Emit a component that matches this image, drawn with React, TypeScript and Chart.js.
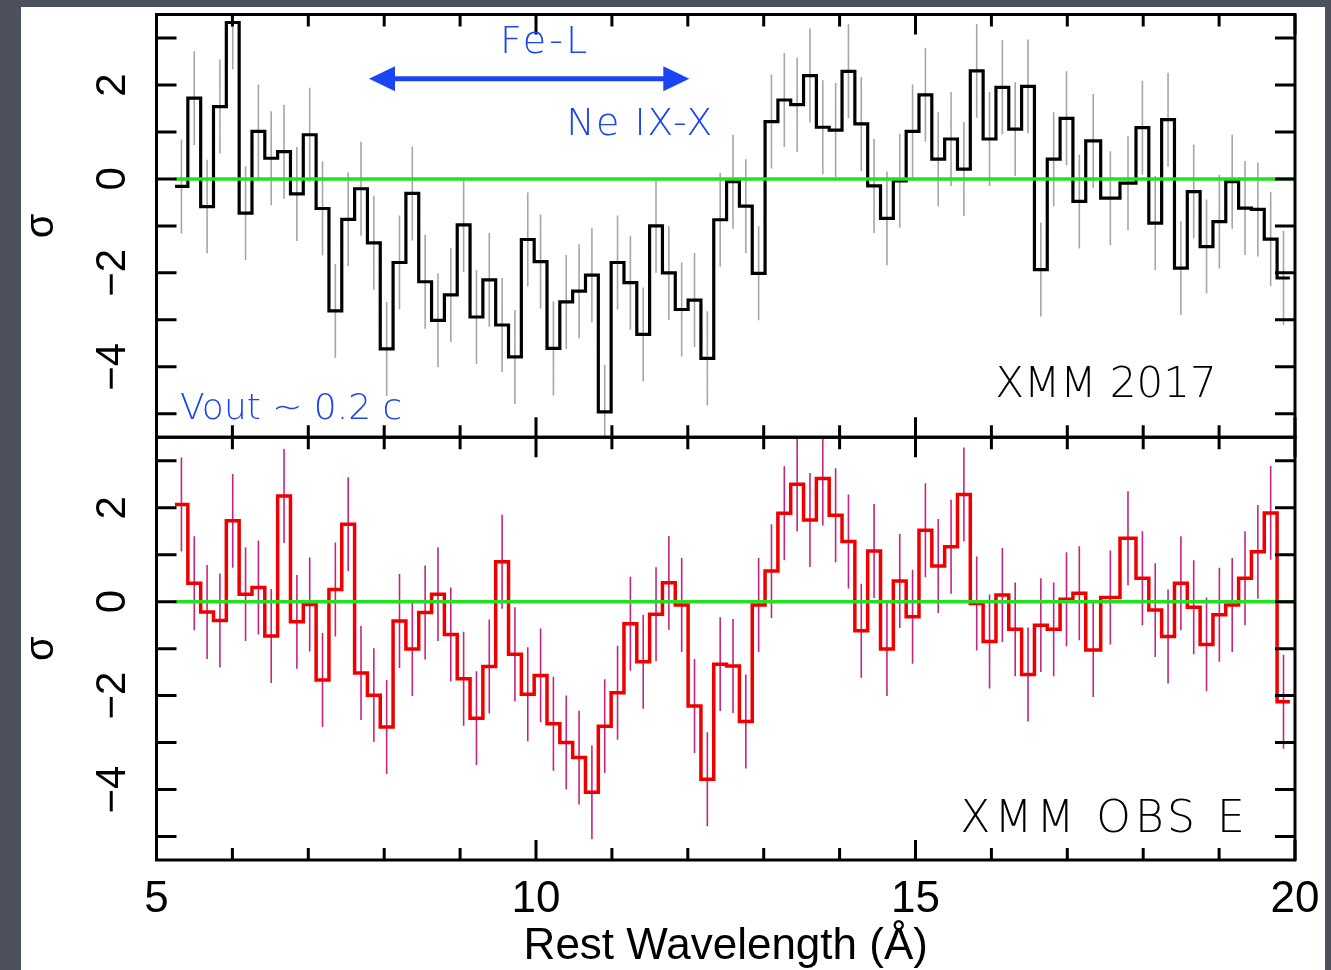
import React, { useEffect, useRef } from 'react';
import { Chart, registerables } from 'chart.js';

Chart.register(...registerables);

// Bin edges of the residual spectra (rest wavelength, Å)
const BIN_EDGES = [
  5.244, 5.413, 5.582, 5.751, 5.920, 6.089, 6.258, 6.427, 6.596, 6.765,
  6.934, 7.103, 7.272, 7.441, 7.610, 7.779, 7.948, 8.117, 8.286, 8.455,
  8.624, 8.793, 8.962, 9.131, 9.300, 9.469, 9.638, 9.807, 9.976, 10.145,
  10.314, 10.483, 10.652, 10.821, 10.990, 11.159, 11.328, 11.497, 11.666, 11.835,
  12.004, 12.173, 12.342, 12.511, 12.680, 12.849, 13.018, 13.187, 13.356, 13.525,
  13.694, 13.863, 14.032, 14.201, 14.370, 14.539, 14.708, 14.877, 15.046, 15.215,
  15.384, 15.553, 15.722, 15.891, 16.060, 16.229, 16.398, 16.567, 16.736, 16.905,
  17.074, 17.243, 17.440, 17.694, 17.905, 18.074, 18.243, 18.412, 18.581, 18.750,
  18.919, 19.088, 19.257, 19.426, 19.595, 19.764, 19.933,
];

// Residuals (σ) — XMM 2017
const XMM2017_SIGMA = [
  -0.16, 1.72, -0.59, 1.54, 3.33, -0.73, 1.01, 0.44, 0.58, -0.32,
  0.94, -0.63, -2.81, -0.86, -0.21, -1.36, -3.62, -1.78, -0.31, -2.19,
  -3.01, -2.47, -0.98, -2.94, -2.15, -3.11, -3.79, -1.29, -1.76, -3.61,
  -2.62, -2.39, -2.05, -4.96, -1.78, -2.21, -3.31, -1.00, -2.00, -2.78,
  -2.58, -3.82, -0.87, -0.06, -0.58, -2.01, 1.22, 1.68, 1.58, 2.20,
  1.10, 1.04, 2.29, 1.17, -0.15, -0.84, -0.04, 1.01, 1.79, 0.42,
  0.85, 0.21, 2.30, 0.85, 1.95, 1.06, 1.97, -1.93, 0.42, 1.29,
  -0.48, 0.81, -0.41, -0.09, 1.09, -0.94, 1.26, -1.90, -0.27, -1.44,
  -0.91, -0.06, -0.62, -0.65, -1.28, -2.11,
];

// Residuals (σ) — XMM OBS E
const OBSE_SIGMA = [
  2.07, 0.39, -0.22, -0.40, 1.72, 0.16, 0.30, -0.73, 2.25, -0.43,
  -0.06, -1.67, 0.26, 1.65, -1.52, -1.99, -2.67, -0.41, -1.01, -0.23,
  0.16, -0.70, -1.64, -2.48, -1.38, 0.85, -1.12, -1.97, -1.57, -2.60,
  -3.00, -3.32, -4.06, -2.65, -1.94, -0.47, -1.28, -0.27, 0.40, -0.07,
  -2.22, -3.78, -1.33, -1.37, -2.55, -0.07, 0.65, 1.88, 2.50, 1.74,
  2.62, 1.84, 1.28, -0.62, 1.08, -1.01, 0.44, -0.32, 1.52, 0.76,
  1.17, 2.28, -0.04, -0.85, 0.14, -0.59, -1.55, -0.50, -0.59, 0.05,
  0.18, -1.03, 0.09, 1.35, 0.50, -0.18, -0.74, 0.39, -0.12, -0.91,
  -0.28, -0.07, 0.50, 1.06, 1.89, -2.13,
];

const SIGMA_ERR = 1; // residuals in units of σ: ±1 error bars
const ZERO_LINE = [5.244, 20];
const X_RANGE = [5, 20];
const Y_RANGE = [-5.5, 3.5];
const X_TICK_STEP = 5;
const Y_TICK_LABELS = [-4, -2, 0, 2];
const X_TITLE = 'Rest Wavelength (Å)';
const Y_TITLE = 'σ';

// Annotations (data coordinates)
const ARROW_SPAN = [7.8, 12.02];
const ARROW_Y = 2.13;
const LABEL_FEL = { text: 'Fe-L', x: 10.12, y: 2.9 };
const LABEL_NE = { text: 'Ne IX-X', x: 11.37, y: 1.15 };
const LABEL_VOUT = { text: 'Vout ~ 0.2 c', x: 5.31, y: -4.92 };
const LABEL_TOP = { text: 'XMM 2017', x: 16.05, y: -4.41 };
const LABEL_BOT = { text: 'XMM OBS E', x: 15.59, y: -4.65 };

const SANS = '"Liberation Sans", Arial, Helvetica, sans-serif';
const HAND = '"DejaVu Sans", "Lato", sans-serif';
const BLUE = '#1b44f4';

function stepPoints(vals: number[]) {
  const pts = vals.map((v, i) => ({ x: BIN_EDGES[i], y: v }));
  pts.push({ x: BIN_EDGES[vals.length], y: vals[vals.length - 1] });
  return pts;
}

function errPoints(vals: number[]) {
  const pts: { x: number; y: number | null }[] = [];
  vals.forEach((v, i) => {
    const xc = (BIN_EDGES[i] + BIN_EDGES[i + 1]) / 2;
    pts.push({ x: xc, y: v - SIGMA_ERR });
    pts.push({ x: xc, y: v + SIGMA_ERR });
    pts.push({ x: xc, y: null });
  });
  return pts;
}

const framePlugin = {
  id: 'frameAndNotes',
  afterDatasetsDraw(chart: any) {
    const ctx = chart.ctx as CanvasRenderingContext2D;
    const xs = chart.scales.x;
    ctx.save();
    ctx.strokeStyle = '#000';
    ctx.lineWidth = 3;
    ctx.lineCap = 'butt';
    for (const id of ['yTop', 'yBot']) {
      const ys = chart.scales[id];
      const L = xs.left, R = xs.right, T = ys.top, B = ys.bottom;
      ctx.strokeRect(L, T, R - L, B - T);
      ctx.beginPath();
      for (let v = X_RANGE[0]; v <= X_RANGE[1]; v++) {
        const px = xs.getPixelForValue(v);
        const len = v % X_TICK_STEP === 0 ? 20 : 12;
        ctx.moveTo(px, T); ctx.lineTo(px, T + len);
        ctx.moveTo(px, B); ctx.lineTo(px, B - len);
      }
      for (let v = Math.ceil(Y_RANGE[0]); v <= Math.floor(Y_RANGE[1]); v++) {
        const py = ys.getPixelForValue(v);
        ctx.moveTo(L, py); ctx.lineTo(L + 20, py);
        ctx.moveTo(R, py); ctx.lineTo(R - 20, py);
      }
      ctx.stroke();

      // rotated y tick labels
      ctx.fillStyle = '#000';
      ctx.font = `42px ${SANS}`;
      ctx.textAlign = 'center';
      ctx.textBaseline = 'middle';
      for (const v of Y_TICK_LABELS) {
        const py = ys.getPixelForValue(v);
        ctx.save();
        ctx.translate(L - 43, py);
        ctx.rotate(-Math.PI / 2);
        ctx.fillText(v < 0 ? `\u2212${Math.abs(v)}` : `${v}`, 0, 0);
        ctx.restore();
      }
    }

    // annotations
    const yT = chart.scales.yTop;
    const yB = chart.scales.yBot;
    const ax1 = xs.getPixelForValue(ARROW_SPAN[0]);
    const ax2 = xs.getPixelForValue(ARROW_SPAN[1]);
    const ay = yT.getPixelForValue(ARROW_Y);
    const head = 26, half = 12.5;
    ctx.strokeStyle = BLUE;
    ctx.fillStyle = BLUE;
    ctx.lineWidth = 5;
    ctx.beginPath();
    ctx.moveTo(ax1 + head - 2, ay);
    ctx.lineTo(ax2 - head + 2, ay);
    ctx.stroke();
    ctx.beginPath();
    ctx.moveTo(ax1, ay); ctx.lineTo(ax1 + head, ay - half); ctx.lineTo(ax1 + head, ay + half); ctx.closePath();
    ctx.fill();
    ctx.beginPath();
    ctx.moveTo(ax2, ay); ctx.lineTo(ax2 - head, ay - half); ctx.lineTo(ax2 - head, ay + half); ctx.closePath();
    ctx.fill();

    const drawText = (lab: any, ys: any, size: number, color: string, align: CanvasTextAlign, spacing: string) => {
      ctx.font = `200 ${size}px ${HAND}`;
      (ctx as any).letterSpacing = spacing;
      ctx.fillStyle = color;
      ctx.textAlign = align;
      ctx.textBaseline = 'middle';
      ctx.fillText(lab.text, xs.getPixelForValue(lab.x), ys.getPixelForValue(lab.y));
    };
    drawText(LABEL_FEL, yT, 38, BLUE, 'center', '3px');
    drawText(LABEL_NE, yT, 38, BLUE, 'center', '1.5px');
    drawText(LABEL_VOUT, yT, 36, BLUE, 'left', '0px');
    drawText(LABEL_TOP, yT, 42, '#000', 'left', '0px');
    drawText(LABEL_BOT, yB, 44, '#000', 'left', '4px');
    (ctx as any).letterSpacing = '0px';
    ctx.restore();
  },
};

export default function App() {
  const ref = useRef<HTMLCanvasElement | null>(null);

  useEffect(() => {
    if (!ref.current) return;
    const yScale = (weight: number) => ({
      type: 'linear' as const,
      position: 'left' as const,
      stack: 'panels',
      stackWeight: 1,
      weight,
      min: Y_RANGE[0],
      max: Y_RANGE[1],
      afterFit: (s: any) => { s.width = 135.5; s.paddingTop = 0; s.paddingBottom = 0; },
      grid: { display: false, drawTicks: false },
      border: { display: false },
      ticks: { display: false, stepSize: 1 },
      title: {
        display: true,
        text: Y_TITLE,
        color: '#000',
        font: { family: SANS, size: 40, lineHeight: 1 },
        padding: { top: 1, bottom: 0 },
      },
    });

    const chart = new Chart(ref.current, {
      type: 'line',
      data: {
        datasets: [
          { data: ZERO_LINE.map((x) => ({ x, y: 0 })), yAxisID: 'yTop', xAxisID: 'x', borderColor: '#22e022', borderWidth: 3.5, pointRadius: 0, order: 0 },
          { data: ZERO_LINE.map((x) => ({ x, y: 0 })), yAxisID: 'yBot', xAxisID: 'x', borderColor: '#22e022', borderWidth: 3.5, pointRadius: 0, order: 0 },
          { data: stepPoints(XMM2017_SIGMA), yAxisID: 'yTop', xAxisID: 'x', stepped: 'before', borderColor: '#000', borderWidth: 3.2, pointRadius: 0, order: 1 },
          { data: stepPoints(OBSE_SIGMA), yAxisID: 'yBot', xAxisID: 'x', stepped: 'before', borderColor: '#ee0000', borderWidth: 3.5, pointRadius: 0, order: 1 },
          { data: errPoints(XMM2017_SIGMA), yAxisID: 'yTop', xAxisID: 'x', borderColor: '#a6a6a6', borderWidth: 1.6, pointRadius: 0, spanGaps: false, order: 2 },
          { data: errPoints(OBSE_SIGMA), yAxisID: 'yBot', xAxisID: 'x', borderColor: '#c4267f', borderWidth: 1.6, pointRadius: 0, spanGaps: false, order: 2 },
        ] as any,
      },
      options: {
        responsive: false,
        animation: false,
        events: [],
        layout: { padding: { top: 7.5, right: 30, bottom: 0, left: 0 } },
        plugins: { legend: { display: false }, tooltip: { enabled: false } },
        scales: {
          x: {
            type: 'linear',
            position: 'bottom',
            min: X_RANGE[0],
            max: X_RANGE[1],
            afterFit: (s: any) => { s.height = 110; s.paddingLeft = 0; s.paddingRight = 0; },
            grid: { display: false, drawTicks: false },
            border: { display: false },
            ticks: { stepSize: X_TICK_STEP, autoSkip: false, maxRotation: 0, color: '#000', padding: 13, font: { family: SANS, size: 44 } },
            title: { display: true, text: X_TITLE, color: '#000', font: { family: SANS, size: 44, lineHeight: 1 }, padding: { top: 1, bottom: 1 } },
          },
          yBot: yScale(1),
          yTop: yScale(2),
        } as any,
      },
      plugins: [framePlugin],
    });
    return () => chart.destroy();
  }, []);

  return (
    <div style={{ position: 'fixed', left: 0, top: 0, width: 1331, height: 970, background: '#4c515d', overflow: 'hidden' }}>
      <div style={{ position: 'absolute', left: 21, top: 7, width: 1304, height: 963, background: '#fff' }}>
        <canvas ref={ref} width={1304} height={963} style={{ width: 1304, height: 963, display: 'block' }} />
      </div>
    </div>
  );
}
